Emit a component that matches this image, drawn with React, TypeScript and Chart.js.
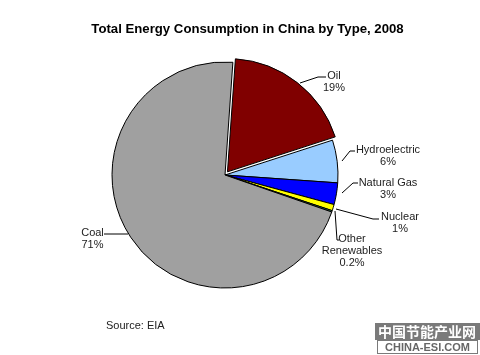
import React, { useEffect, useRef } from "react";
import { Chart, registerables } from "chart.js";

Chart.register(...registerables);

const categories = ["Oil", "Hydroelectric", "Natural Gas", "Nuclear", "Other Renewables", "Coal"];
const shares = [18.9, 6.1, 3.1, 0.9, 0.2, 70.8];
const percentLabels = ["19%", "6%", "3%", "1%", "0.2%", "71%"];
const sliceColors = ["#800000", "#99CCFF", "#0000FF", "#FFFF00", "#339966", "#A0A0A0"];
// Chart.js 4 draws arcs shifted by offset / 4
const explode = [16, 0, 0, 0, 0, 0];

const titleText = "Total Energy Consumption in China by Type, 2008";
const sourceText = "Source: EIA";

const FONT = "'Liberation Sans', Arial, sans-serif";

const labelLayout: { lines: string[]; x: number; y: number; leader: number[][] }[] = [
  { lines: ["Oil", "19%"], x: 334, y: 76, leader: [[300, 83], [318, 77], [326, 77]] },
  { lines: ["Hydroelectric", "6%"], x: 388, y: 150, leader: [[342, 161], [350, 151], [355, 151]] },
  { lines: ["Natural Gas", "3%"], x: 388, y: 183, leader: [[342, 193], [353, 183], [358, 183]] },
  { lines: ["Nuclear", "1%"], x: 400, y: 217, leader: [[336, 209], [373, 219], [379, 219]] },
  { lines: ["Other", "Renewables", "0.2%"], x: 352, y: 239, leader: [[335, 211], [337, 240], [339, 240]] },
  { lines: ["Coal", "71%"], x: 92.5, y: 233, leader: [[104, 234], [128, 234]] },
];

const annotationPlugin = {
  id: "annotations",
  afterDraw(chart: Chart) {
    const ctx = chart.ctx;
    ctx.save();
    ctx.fillStyle = "#000";
    ctx.font = `bold 13.2px ${FONT}`;
    ctx.textAlign = "center";
    ctx.textBaseline = "middle";
    ctx.fillText(titleText, 247.5, 29);

    ctx.font = `11px ${FONT}`;
    ctx.fillStyle = "#222";
    ctx.strokeStyle = "#000";
    ctx.lineWidth = 1;
    labelLayout.forEach((l, i) => {
      ctx.beginPath();
      l.leader.forEach((p, j) => {
        if (j === 0) ctx.moveTo(p[0], p[1]);
        else ctx.lineTo(p[0], p[1]);
      });
      ctx.stroke();
      const lines = l.lines.slice(0, l.lines.length - 1).concat([percentLabels[i]]);
      lines.forEach((t, k) => {
        ctx.fillText(t, l.x, l.y + k * 12);
      });
    });

    ctx.textAlign = "left";
    ctx.fillText(sourceText, 106, 326);

    // watermark
    ctx.fillStyle = "#7a7a7a";
    ctx.fillRect(375, 323, 105, 17);
    ctx.fillStyle = "#fff";
    ctx.textAlign = "center";
    ctx.font = `bold 14px 'Noto Sans CJK SC', sans-serif`;
    ctx.fillText("中国节能产业网", 427, 332);
    ctx.strokeStyle = "#7a7a7a";
    ctx.strokeRect(377.5, 340.5, 100, 13);
    ctx.fillStyle = "#666";
    ctx.font = `bold 11px ${FONT}`;
    ctx.fillText("CHINA-ESI.COM", 427.5, 347.5);
    ctx.restore();
  },
};

export default function App() {
  const ref = useRef<HTMLCanvasElement | null>(null);
  useEffect(() => {
    if (!ref.current) return;
    const chart = new Chart(ref.current, {
      type: "pie",
      data: {
        labels: categories,
        datasets: [
          {
            data: shares,
            backgroundColor: sliceColors,
            borderColor: "#000",
            borderWidth: 1,
            offset: explode,
            radius: 113,
          } as any,
        ],
      },
      options: {
        responsive: false,
        animation: false,
        rotation: 4,
        layout: { padding: { left: 0, right: 30, top: 50, bottom: 55 } },
        plugins: {
          legend: { display: false },
          title: { display: false },
          tooltip: { enabled: false },
        },
      } as any,
      plugins: [annotationPlugin],
    });
    return () => chart.destroy();
  }, []);
  return (
    <div style={{ position: "absolute", left: 0, top: 0, width: 480, height: 355, background: "#fff" }}>
      <canvas ref={ref} width={480} height={355} />
    </div>
  );
}
